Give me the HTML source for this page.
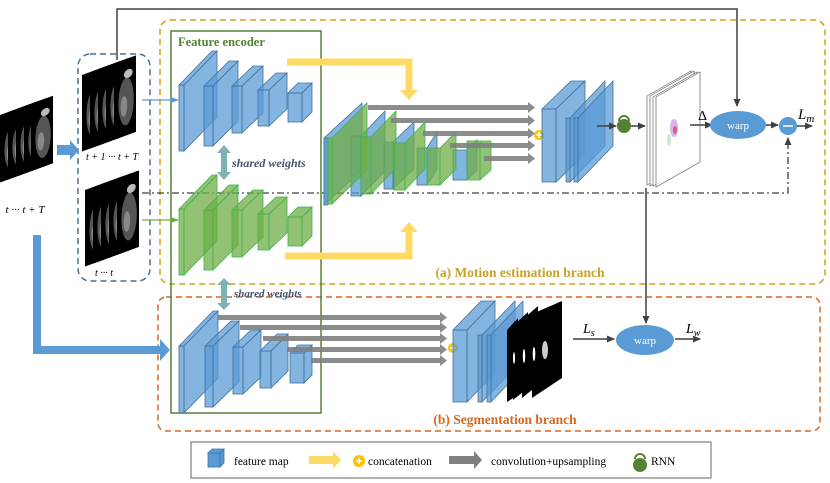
<!DOCTYPE html>
<html><head><meta charset="utf-8"><style>
html,body{margin:0;padding:0;background:#fff}
svg{display:block}
text{font-family:"Liberation Serif",serif}
</style></head><body>
<svg width="830" height="483" viewBox="0 0 830 483" xmlns="http://www.w3.org/2000/svg">
<defs>
<marker id="ah" markerWidth="8" markerHeight="8" refX="7" refY="4" orient="auto" markerUnits="userSpaceOnUse"><path d="M0,0.5 L8,4 L0,7.5z" fill="#404040"/></marker>
<marker id="ahb" markerWidth="8" markerHeight="8" refX="7" refY="4" orient="auto" markerUnits="userSpaceOnUse"><path d="M0,1 L8,4 L0,7z" fill="#5b9bd5"/></marker>
<marker id="ahg" markerWidth="8" markerHeight="8" refX="7" refY="4" orient="auto" markerUnits="userSpaceOnUse"><path d="M0,1 L8,4 L0,7z" fill="#70ad47"/></marker>
<g id="mri">
<rect x="0" y="0" width="40" height="90" fill="#000"/>
<ellipse cx="22" cy="50" rx="14" ry="28" fill="#555"/>
<ellipse cx="26" cy="18" rx="8" ry="5" fill="#bbb"/>
<ellipse cx="18" cy="55" rx="6" ry="12" fill="#888"/>
</g>
</defs>

<rect x="160" y="20" width="665" height="264" rx="10" fill="none" stroke="#d4a017" stroke-width="1.5" stroke-dasharray="6,4"/>
<rect x="158" y="297" width="662" height="134" rx="8" fill="none" stroke="#d4691f" stroke-width="1.5" stroke-dasharray="6,4"/>
<rect x="78" y="54" width="72" height="227" rx="12" fill="none" stroke="#41719c" stroke-width="1.5" stroke-dasharray="6,4"/>
<rect x="171" y="31" width="150" height="382" fill="none" stroke="#548235" stroke-width="1.5"/>
<text x="178" y="46" font-size="12.5" font-weight="bold" fill="#548235">Feature encoder</text>
<text x="520" y="277" font-size="13.5" font-weight="bold" fill="#c9a227" text-anchor="middle">(a) Motion estimation branch</text>
<text x="505" y="424" font-size="13.5" font-weight="bold" fill="#d4691f" text-anchor="middle">(b) Segmentation branch</text>

<polyline points="117,60 117,9 737,9 737,106" fill="none" stroke="#404040" stroke-width="1.5" marker-end="url(#ah)"/>
<polyline points="142,193 788,193 788,138" fill="none" stroke="#404040" stroke-width="1.3" stroke-dasharray="7,3,2,3" marker-end="url(#ah)"/>

<g transform="translate(0,105) skewY(-20)"><use href="#mri" transform="translate(0,10) scale(0.55,0.75)"/><use href="#mri" transform="translate(8,10) scale(0.55,0.75)"/><use href="#mri" transform="translate(16,10) scale(0.55,0.75)"/><use href="#mri" transform="translate(24,10) scale(0.55,0.75)"/><use href="#mri" transform="translate(31,10) scale(0.55,0.75)"/></g>
<text x="25" y="213" font-size="11" font-style="italic" text-anchor="middle">t ··· t + T</text>
<g transform="translate(82,63) skewY(-20)"><use href="#mri" transform="translate(0,12) scale(0.55,0.85)"/><use href="#mri" transform="translate(8,12) scale(0.55,0.85)"/><use href="#mri" transform="translate(16,12) scale(0.55,0.85)"/><use href="#mri" transform="translate(24,12) scale(0.55,0.85)"/><use href="#mri" transform="translate(32,12) scale(0.55,0.85)"/></g>
<text x="112" y="160" font-size="10" font-style="italic" text-anchor="middle">t + 1 ··· t + T</text>
<g transform="translate(85,178) skewY(-20)"><use href="#mri" transform="translate(0,12) scale(0.55,0.85)"/><use href="#mri" transform="translate(8,12) scale(0.55,0.85)"/><use href="#mri" transform="translate(16,12) scale(0.55,0.85)"/><use href="#mri" transform="translate(24,12) scale(0.55,0.85)"/><use href="#mri" transform="translate(32,12) scale(0.55,0.85)"/></g>
<text x="104" y="276" font-size="10" font-style="italic" text-anchor="middle">t ··· t</text>

<polygon points="57,145 70,145 70,140 79,150 70,160 70,155 57,155" fill="#5b9bd5"/>
<polygon points="33,235 41,235 41,346 160,346 160,339 170,350 160,361 160,354 33,354" fill="#5b9bd5"/>
<line x1="142" y1="100" x2="178" y2="100" stroke="#5b9bd5" stroke-width="1.3" marker-end="url(#ahb)"/>
<line x1="142" y1="220" x2="178" y2="220" stroke="#70ad47" stroke-width="1.3" marker-end="url(#ahg)"/>

<g fill="#7fb3b3"><polygon points="224,145 231,153 227,153 227,172 231,172 224,180 217,172 221,172 221,153 217,153"/>
<polygon points="224,278 231,285 227,285 227,303 231,303 224,310 217,303 221,303 221,285 217,285"/></g>
<text x="232" y="167" font-size="12" font-weight="bold" font-style="italic" fill="#44546a">shared weights</text>
<text x="234" y="297" font-size="11" font-weight="bold" font-style="italic" fill="#44546a">shared weights</text>

<polyline points="287,62 409,62 409,92" fill="none" stroke="#ffd966" stroke-width="7"/>
<polygon points="400,90 418,90 409,100" fill="#ffd966"/>
<polyline points="285,256 409,256 409,230" fill="none" stroke="#ffd966" stroke-width="7"/>
<polygon points="400,232 418,232 409,222" fill="#ffd966"/>

<g fill="#5b9bd5" fill-opacity="0.75" stroke="#41719c" stroke-width="0.8">
<polygon points="184,85 217,51 217,117 184,151"/><rect x="179" y="85" width="5" height="66"/><polygon points="179,85 212,51 217,51 184,85"/>
<polygon points="213,86 238,61 238,121 213,146"/><rect x="204" y="86" width="9" height="60"/><polygon points="204,86 229,61 238,61 213,86"/>
<polygon points="242,86 263,66 263,113 242,133"/><rect x="232" y="86" width="10" height="47"/><polygon points="232,86 253,66 263,66 242,86"/>
<polygon points="269,90 287,73 287,109 269,126"/><rect x="258" y="90" width="11" height="36"/><polygon points="258,90 276,73 287,73 269,90"/>
<polygon points="302,93 312,83 312,112 302,122"/><rect x="288" y="93" width="14" height="29"/><polygon points="288,93 298,83 312,83 302,93"/>
</g>
<g fill="#70ad47" fill-opacity="0.75" stroke="#3cb44b" stroke-width="0.8" transform="translate(0,124)">
<polygon points="184,85 217,51 217,117 184,151"/><rect x="179" y="85" width="5" height="66"/><polygon points="179,85 212,51 217,51 184,85"/>
<polygon points="213,86 238,61 238,121 213,146"/><rect x="204" y="86" width="9" height="60"/><polygon points="204,86 229,61 238,61 213,86"/>
<polygon points="242,86 263,66 263,113 242,133"/><rect x="232" y="86" width="10" height="47"/><polygon points="232,86 253,66 263,66 242,86"/>
<polygon points="269,90 287,73 287,109 269,126"/><rect x="258" y="90" width="11" height="36"/><polygon points="258,90 276,73 287,73 269,90"/>
<polygon points="302,93 312,83 312,112 302,122"/><rect x="288" y="93" width="14" height="29"/><polygon points="288,93 298,83 312,83 302,93"/>
</g>
<g fill="#5b9bd5" fill-opacity="0.75" stroke="#41719c" stroke-width="0.8">
<polygon points="184,346 218,311 218,378 184,413"/><rect x="179" y="346" width="5" height="67"/><polygon points="179,346 213,311 218,311 184,346"/>
<polygon points="213,346 239,321 239,382 213,407"/><rect x="205" y="346" width="8" height="61"/><polygon points="205,346 231,321 239,321 213,346"/>
<polygon points="243,347 261,330 261,377 243,394"/><rect x="233" y="347" width="10" height="47"/><polygon points="233,347 251,330 261,330 243,347"/>
<polygon points="271,351 288,334 288,371 271,388"/><rect x="260" y="351" width="11" height="37"/><polygon points="260,351 277,334 288,334 271,351"/>
<polygon points="304,353 312,345 312,375 304,383"/><rect x="290" y="353" width="14" height="30"/><polygon points="290,353 298,345 312,345 304,353"/>
</g>
<g fill="#7f7f7f" fill-opacity="0.9">
<rect x="218" y="315" width="222" height="5"/><polygon points="440,312 447,317.5 440,323"/>
<rect x="240" y="325" width="200" height="5"/><polygon points="440,322 447,327.5 440,333"/>
<rect x="263" y="336" width="177" height="5"/><polygon points="440,333 447,338.5 440,344"/>
<rect x="287" y="347" width="153" height="5"/><polygon points="440,344 447,349.5 440,355"/>
<rect x="311" y="358" width="129" height="5"/><polygon points="440,355 447,360.5 440,366"/>
</g>
<circle cx="453" cy="348" r="5" fill="#ffc000"/><path d="M450,348h6M453,345v6" stroke="#fff" stroke-width="1.5"/>
<g fill="#5b9bd5" fill-opacity="0.75" stroke="#41719c" stroke-width="0.8">
<polygon points="467,330 495,301 495,373 467,402"/><rect x="453" y="330" width="14" height="72"/><polygon points="453,330 481,301 495,301 467,330"/>
<polygon points="482,335 515,301 515,368 482,402"/><rect x="478" y="335" width="4" height="67"/>
<polygon points="491,335 523,301 523,368 491,402"/><rect x="487" y="335" width="4" height="67"/>
</g>
<g fill="#000"><polygon points="507,330 518,318 518,395 507,402"/><polygon points="513,326 528,312 528,388 513,400"/><polygon points="522,320 538,306 538,385 522,398"/><polygon points="532,314 562,301 562,378 532,398"/></g>
<g fill="#fff"><ellipse cx="514" cy="358" rx="1" ry="6"/><ellipse cx="524" cy="356" rx="1.2" ry="7"/><ellipse cx="534" cy="354" rx="1.3" ry="7"/><ellipse cx="545" cy="350" rx="3" ry="9" fill="#ccc"/></g>
<line x1="573" y1="339" x2="614" y2="339" stroke="#404040" stroke-width="1.5" marker-end="url(#ah)"/>
<text x="583" y="333" font-size="14" font-style="italic">L<tspan font-size="10" dy="3">s</tspan></text>
<ellipse cx="645" cy="340" rx="29" ry="15" fill="#5b9bd5"/>
<text x="645" y="344" font-size="11" fill="#fff" text-anchor="middle" font-family="Liberation Sans,sans-serif">warp</text>
<line x1="675" y1="339" x2="700" y2="339" stroke="#404040" stroke-width="1.5" marker-end="url(#ah)"/>
<text x="686" y="333" font-size="14" font-style="italic">L<tspan font-size="10" dy="3">w</tspan></text>
<line x1="646" y1="188" x2="646" y2="323" stroke="#404040" stroke-width="1.5" marker-end="url(#ah)"/>

<g stroke-width="0.8" fill-opacity="0.75">
<g fill="#5b9bd5" stroke="#41719c"><polygon points="324,138 362,103 362,170 324,205"/><rect x="324" y="138" width="4" height="67"/>
<polygon points="361,136 385,111 385,171 361,196"/><rect x="351" y="136" width="10" height="60"/>
<polygon points="393,142 414,122 414,169 393,189"/><rect x="384" y="142" width="9" height="47"/>
<polygon points="427,148 437,132 437,169 427,185"/><rect x="417" y="148" width="10" height="37"/>
<polygon points="467,150 477,140 477,170 467,180"/><rect x="453" y="150" width="14" height="30"/></g>
<g fill="#70ad47" stroke="#3cb44b"><polygon points="332,138 367,103 367,170 332,204"/><rect x="328" y="138" width="4" height="66"/>
<polygon points="371,137 396,111 396,168 371,194"/><rect x="361" y="137" width="10" height="57"/>
<polygon points="405,143 425,122 425,169 405,190"/><rect x="394" y="143" width="11" height="47"/>
<polygon points="440,148 456,132 456,169 440,185"/><rect x="427" y="148" width="13" height="37"/>
<polygon points="480,141 491,141 491,170 480,180"/><rect x="467" y="141" width="13" height="39"/></g>
</g>
<g fill="#7f7f7f" fill-opacity="0.9">
<rect x="368" y="105" width="160" height="5"/><polygon points="528,102 535,107.5 528,113"/>
<rect x="391" y="118" width="137" height="5"/><polygon points="528,115 535,120.5 528,126"/>
<rect x="423" y="131" width="105" height="5"/><polygon points="528,128 535,133.5 528,139"/>
<rect x="450" y="143" width="78" height="5"/><polygon points="528,140 535,145.5 528,151"/>
<rect x="484" y="156" width="44" height="5"/><polygon points="528,153 535,158.5 528,164"/>
</g>
<circle cx="539" cy="135" r="5" fill="#ffc000"/><path d="M536,135h6M539,132v6" stroke="#fff" stroke-width="1.5"/>
<g fill="#5b9bd5" fill-opacity="0.75" stroke="#41719c" stroke-width="0.8">
<polygon points="556,109 585,81 585,154 556,182"/><rect x="542" y="109" width="14" height="73"/><polygon points="542,109 571,81 585,81 556,109"/>
<polygon points="570,118 605,81 605,146 570,182"/><rect x="566" y="118" width="4" height="64"/>
<polygon points="578,118 613,81 613,146 578,182"/><rect x="574" y="118" width="4" height="64"/>
</g>
<line x1="597" y1="126" x2="616" y2="126" stroke="#404040" stroke-width="1.5" marker-end="url(#ah)"/>
<circle cx="624" cy="126" r="7" fill="#548235"/>
<path d="M619,121 A5,5 0 1 1 629,121" fill="none" stroke="#548235" stroke-width="2"/>
<line x1="631" y1="126" x2="645" y2="126" stroke="#404040" stroke-width="1.5" marker-end="url(#ah)"/>
<g fill="#fff" stroke="#666" stroke-width="0.7">
<polygon points="647,96 691,71 691,160 647,185"/><polygon points="650,96 694,71 694,160 650,186"/><polygon points="653,97 697,72 697,161 653,186"/><polygon points="656,97 700,72 700,162 656,187"/>
</g>
<ellipse cx="674" cy="128" rx="4" ry="9" fill="#c080e0" opacity="0.6"/><ellipse cx="675" cy="130" rx="2" ry="4" fill="#e03060" opacity="0.7"/><ellipse cx="669" cy="140" rx="2" ry="6" fill="#80c080" opacity="0.4"/>
<line x1="690" y1="125" x2="712" y2="125" stroke="#404040" stroke-width="1.5" marker-end="url(#ah)"/>
<text x="698" y="120" font-size="14">Δ</text>
<ellipse cx="738" cy="125" rx="28" ry="14" fill="#5b9bd5"/>
<text x="738" y="129" font-size="11" fill="#fff" text-anchor="middle" font-family="Liberation Sans,sans-serif">warp</text>
<line x1="766" y1="125" x2="778" y2="125" stroke="#404040" stroke-width="1.5" marker-end="url(#ah)"/>
<circle cx="788" cy="126" r="9" fill="#5b9bd5"/><line x1="783" y1="126" x2="793" y2="126" stroke="#fff" stroke-width="1.5"/>
<line x1="797" y1="126" x2="812" y2="126" stroke="#404040" stroke-width="1.5" marker-end="url(#ah)"/>
<text x="798" y="119" font-size="15" font-style="italic">L<tspan font-size="11" dy="3">m</tspan></text>

<rect x="191" y="442" width="520" height="36" fill="#fff" stroke="#808080" stroke-width="1.2"/>
<g fill="#5b9bd5" stroke="#41719c" stroke-width="0.8"><rect x="208" y="453" width="12" height="14"/><polygon points="208,453 212,449 224,449 220,453"/><polygon points="220,453 224,449 224,463 220,467"/></g>
<text x="234" y="465" font-size="11.5">feature map</text>
<polygon points="309,456 333,456 333,451 341,460 333,469 333,464 309,464" fill="#ffd966"/>
<circle cx="359" cy="461" r="6" fill="#ffc000"/><path d="M356,461h6M359,458v6" stroke="#fff" stroke-width="1.5"/>
<text x="368" y="465" font-size="11.5">concatenation</text>
<polygon points="449,456 474,456 474,451 482,460 474,469 474,464 449,464" fill="#808080"/>
<text x="491" y="465" font-size="11.5">convolution+upsampling</text>
<circle cx="640" cy="465" r="7" fill="#548235"/><path d="M635,459 A5,5 0 1 1 645,459" fill="none" stroke="#548235" stroke-width="2"/>
<text x="651" y="465" font-size="11.5">RNN</text>
</svg>
</body></html>
